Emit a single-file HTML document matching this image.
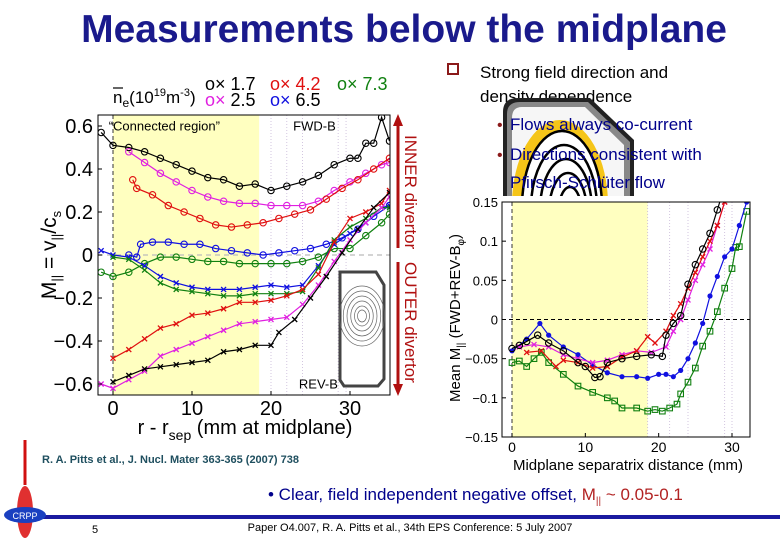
<!DOCTYPE html>
<html><head><meta charset="utf-8"><style>
html,body{margin:0;padding:0;background:#fff;width:780px;height:540px;overflow:hidden}
svg{display:block;font-family:"Liberation Sans",sans-serif}
</style></head><body>
<svg id="s" width="780" height="540" viewBox="0 0 780 540">
<text x="404" y="42" text-anchor="middle" font-size="39" font-weight="bold" fill="#1a1a8c">Measurements below the midplane</text>

<g id="L"></g>
<g id="R"></g>

<rect x="448" y="64" width="10" height="10" fill="none" stroke="#8b1a1a" stroke-width="2"/>
<text x="480" y="78" font-size="17" fill="#000">Strong field direction and</text>
<text x="480" y="102" font-size="17" fill="#000">density dependence</text>
<defs><clipPath id="tk"><path d="M503,112 Q503,98 518,98 L590,98 L634,140 L634,196 L503,196 Z"/></clipPath></defs>
<g clip-path="url(#tk)">
<rect x="500" y="95" width="140" height="105" fill="#222"/>
<path d="M507,114 Q507,102 520,102 L588,102 L630,142 L630,196 L507,196 Z" fill="#888"/>
<path d="M512,118 Q512,107 522,107 L585,107 L624,145 L624,196 L512,196 Z" fill="#f6f6f6"/>
<ellipse cx="560" cy="205" rx="48" ry="85" fill="#f5c518"/>
<ellipse cx="562" cy="207" rx="40" ry="76" fill="#fff" stroke="#000" stroke-width="2.5"/>
<ellipse cx="564" cy="209" rx="33" ry="64" fill="none" stroke="#000" stroke-width="2.5"/>
<ellipse cx="566" cy="211" rx="26" ry="52" fill="none" stroke="#000" stroke-width="2.5"/>
<ellipse cx="568" cy="213" rx="19" ry="40" fill="none" stroke="#000" stroke-width="2.5"/>
<ellipse cx="570" cy="215" rx="12" ry="28" fill="none" stroke="#000" stroke-width="2.5"/>
</g>
<text x="497" y="130" font-size="16" fill="#8b1a1a">•</text>
<text x="510" y="130" font-size="17" fill="#00008b">Flows always co-current</text>
<text x="497" y="160" font-size="16" fill="#8b1a1a">•</text>
<text x="510" y="160" font-size="17" fill="#00008b">Directions consistent with</text>
<text x="510" y="188" font-size="17" fill="#00008b">Pfirsch-Schlüter flow</text>

<text x="42" y="463" font-size="11" font-weight="bold" fill="#1f4f5f">R. A. Pitts et al., J. Nucl. Mater 363-365 (2007) 738</text>
<text x="268" y="500" font-size="17" fill="#00008b">•  Clear, field independent negative offset, <tspan fill="#b22222">M<tspan font-size="10" dy="4">||</tspan><tspan dy="-4"> ~ 0.05-0.1</tspan></tspan></text>

<line x1="25" y1="440" x2="25" y2="485" stroke="#d01010" stroke-width="3"/>
<line x1="40" y1="517" x2="780" y2="517" stroke="#1a1aa0" stroke-width="4"/>
<g>
<ellipse cx="25" cy="512" rx="8" ry="26" fill="#e03030"/>
<ellipse cx="25" cy="515" rx="21" ry="8" fill="#1a40c0"/>
<text x="25" y="519" font-size="9" fill="#fff" text-anchor="middle">CRPP</text>
</g>
<text x="92" y="533" font-size="11" fill="#000">5</text>
<text x="410" y="531" font-size="11" fill="#000" text-anchor="middle">Paper O4.007, R. A. Pitts et al., 34th EPS Conference: 5 July 2007</text>
</svg>
<script>
// ---------- LEFT CHART DATA ----------
const leftTicksY = [0.6, 0.4, 0.2, 0, -0.2, -0.4, -0.6];
const leftTickLabelsY = ["0.6", "0.4", "0.2", "0", "\u22120.2", "\u22120.4", "\u22120.6"];
const leftTicksX = [0, 10, 20, 30];
const blackFwdX = [-1.5,0,2,4,6,8,10,12,14,16,18,20,22,24,26,28,30,31,32,33,34,35];
const blackFwdY = [0.57,0.51,0.50,0.48,0.45,0.42,0.39,0.36,0.35,0.32,0.33,0.30,0.32,0.34,0.37,0.42,0.45,0.45,0.52,0.52,0.64,0.53];
const magentaFwdX = [2,4,6,8,10,12,14,16,18,20,22,24,26,28,30,32,34,35];
const magentaFwdY = [0.48,0.43,0.38,0.34,0.30,0.27,0.25,0.24,0.24,0.23,0.23,0.23,0.25,0.30,0.34,0.38,0.42,0.43];
const redFwdX = [2.5,3,5,7,9,11,13,15,17,19,21,23,25,27,29,31,33,35];
const redFwdY = [0.35,0.31,0.28,0.23,0.20,0.17,0.14,0.13,0.14,0.15,0.17,0.19,0.21,0.26,0.31,0.35,0.40,0.45];
const blueFwdX = [2,3,3.5,5,7,9,11,13,15,17,19,21,23,25,27,29,31,33,35];
const blueFwdY = [0.00,-0.01,0.05,0.06,0.06,0.05,0.05,0.03,0.02,0.01,0.00,0.01,0.02,0.03,0.05,0.08,0.12,0.18,0.23];
const greenFwdX = [-1.5,0,2,4,6,8,10,12,14,16,18,20,22,24,26,28,30,32,34,35];
const greenFwdY = [-0.08,-0.10,-0.08,-0.04,-0.01,-0.01,-0.02,-0.03,-0.03,-0.04,-0.04,-0.04,-0.04,-0.03,-0.01,0.03,0.03,0.09,0.15,0.19];
const blueRevX = [-1.5,0,2,4,6,8,10,12,14,16,18,20,22,24,26,28,30,32,34,35];
const blueRevY = [0.02,0.00,-0.01,-0.05,-0.10,-0.13,-0.15,-0.16,-0.16,-0.16,-0.15,-0.14,-0.15,-0.14,-0.05,0.05,0.10,0.15,0.22,0.23];
const greenRevX = [0,2,4,6,8,10,12,14,16,18,20,22,24,26,28,30,32,34,35];
const greenRevY = [-0.01,-0.02,-0.07,-0.13,-0.16,-0.17,-0.18,-0.19,-0.19,-0.18,-0.18,-0.18,-0.17,-0.06,0.07,0.13,0.17,0.22,0.22];
const redRevX = [0,2,4,6,8,10,12,14,16,18,20,22,24,26,28,30,32,34,35];
const redRevY = [-0.48,-0.44,-0.39,-0.34,-0.32,-0.28,-0.27,-0.25,-0.22,-0.22,-0.21,-0.19,-0.16,-0.09,0.06,0.17,0.20,0.24,0.30];
const magentaRevX = [-1.5,0,2,4,6,8,10,12,14,16,18,20,22,24,26,28,30,32,34,35];
const magentaRevY = [-0.60,-0.62,-0.58,-0.54,-0.47,-0.44,-0.41,-0.38,-0.35,-0.32,-0.31,-0.30,-0.29,-0.23,-0.14,-0.03,0.07,0.15,0.22,0.27];
const blackRevX = [0,2,4,6,8,10,12,14,16,18,20,21,23,25,27,29,31,33,35];
const blackRevY = [-0.59,-0.56,-0.53,-0.52,-0.51,-0.50,-0.49,-0.45,-0.44,-0.42,-0.42,-0.36,-0.30,-0.20,-0.10,0.01,0.12,0.22,0.29];

// ---------- RIGHT CHART DATA ----------
const rightTicksY = [0.15, 0.1, 0.05, 0, -0.05, -0.1, -0.15];
const rightTickLabelsY = ["0.15", "0.1", "0.05", "0", "\u22120.05", "\u22120.1", "\u22120.15"];
const rightTicksX = [0, 10, 20, 30];
const rBlackX = [0,1,2,3.5,5,7,9,10,11.3,12,13,15,17,19,20.5,21,22,23,24,25,26,27,28,29];
const rBlackY = [-0.037,-0.033,-0.028,-0.020,-0.030,-0.040,-0.055,-0.060,-0.074,-0.073,-0.055,-0.050,-0.047,-0.045,-0.047,-0.020,-0.005,0.005,0.045,0.07,0.09,0.11,0.14,0.17];
const rRedX = [2,4,6,7,9,11,13,15,17,18.5,19.5,21,22,23,24,25,26,27,28,29];
const rRedY = [-0.042,-0.040,-0.060,-0.052,-0.055,-0.062,-0.060,-0.048,-0.040,-0.022,-0.030,-0.015,0.005,0.02,0.04,0.06,0.08,0.10,0.12,0.15];
const rMagentaX = [1,3,5,7,9,11,13,15,17,19,21,22,23,24,25,26,27,28,29];
const rMagentaY = [-0.035,-0.032,-0.035,-0.045,-0.050,-0.055,-0.052,-0.045,-0.040,-0.042,-0.035,-0.015,0.000,0.025,0.05,0.07,0.09,0.12,0.15];
const rBlueX = [0,2,3.8,5,7,9,11,13,15,17,18.5,20,21,22,23,24,25,26,27,28,29,30,31,32];
const rBlueY = [-0.04,-0.025,-0.005,-0.02,-0.035,-0.045,-0.058,-0.068,-0.073,-0.073,-0.075,-0.070,-0.070,-0.073,-0.065,-0.05,-0.030,-0.005,0.03,0.055,0.08,0.09,0.12,0.15];
const rGreenX = [0,1,2,3,4,5,7,9,11,13,14,15,17,18.5,19.5,20.5,21.5,22.5,23,24,25,26,27,28,29,30,30.5,31,32];
const rGreenY = [-0.055,-0.053,-0.060,-0.050,-0.042,-0.055,-0.070,-0.085,-0.093,-0.100,-0.104,-0.113,-0.113,-0.117,-0.115,-0.117,-0.113,-0.108,-0.095,-0.080,-0.062,-0.034,-0.015,0.010,0.040,0.065,0.092,0.093,0.138];

const NS = "http://www.w3.org/2000/svg";
function mk(tag, attrs, parent){const e=document.createElementNS(NS,tag);for(const k in attrs)e.setAttribute(k,attrs[k]);parent.appendChild(e);return e;}
function marker(g, type, cx, cy, col){
  let m;
  if(type==='o'){m=mk('circle',{cx:cx,cy:cy,r:3.2,fill:'none',stroke:col,'stroke-width':1.1},g);}
  else if(type==='x'){m=mk('path',{d:`M${cx-2.5},${cy-2.5}L${cx+2.5},${cy+2.5}M${cx-2.5},${cy+2.5}L${cx+2.5},${cy-2.5}`,stroke:col,'stroke-width':1.3},g);}
  else if(type==='*'){m=mk('circle',{cx:cx,cy:cy,r:2.6,fill:col},g);}
  else {m=mk('rect',{x:cx-2.8,y:cy-2.8,width:5.6,height:5.6,fill:'none',stroke:col,'stroke-width':1.1},g);}
  
  
}
function series(g, xs, ys, sx, sy, col, type, name){
  const sg=mk('g',{},g);
  
  
  const pts=xs.map((x,i)=>sx(x)+','+sy(ys[i])).join(' ');
  mk('polyline',{points:pts,fill:'none',stroke:col,'stroke-width':1.2},sg);
  xs.forEach((x,i)=>marker(sg,type,sx(x),sy(ys[i]),col));
}

// LEFT
(function(){
  const g=document.getElementById('L');
  const X0=98,X1=390,Y0=115,Y1=395;
  const sx=x=>113+x*(350-113)/30;
  const sy=y=>255-y*(255-126)/0.6;
  const cp=mk('clipPath',{id:'cl'},g);mk('rect',{x:X0,y:Y0,width:X1-X0,height:Y1-Y0},cp);
  const yel=mk('rect',{x:sx(0),y:Y0,width:sx(18.5)-sx(0),height:Y1-Y0,fill:'#ffffc0'},g);
  
  
  [20,22,24,28.5,29.5].forEach(v=>mk('line',{x1:sx(v),x2:sx(v),y1:Y0,y2:Y1,stroke:'#c8b8d8','stroke-width':0.8,'stroke-dasharray':'1,2'},g));
  mk('line',{x1:sx(0),x2:sx(0),y1:Y0,y2:Y1,stroke:'#333','stroke-dasharray':'4,3'},g);
  mk('line',{x1:X0,x2:X1,y1:sy(0),y2:sy(0),stroke:'#bbb','stroke-dasharray':'5,4','stroke-width':1.2},g);
  const t1=mk('text',{x:sx(6.5),y:sy(0.58),'font-size':13,'text-anchor':'middle',fill:'#000'},g);t1.textContent='“Connected region”';
  
  
  const t2=mk('text',{x:sx(25.5),y:sy(0.58),'font-size':13,'text-anchor':'middle'},g);t2.textContent='FWD-B';
  
  
  const ins=mk('g',{},g);
  
  
  mk('path',{d:'M340,272 L376,272 L384,285 L384,379 L378,386 L344,386 L340,380 Z',fill:'#fff',stroke:'#444','stroke-width':3},ins);
  [30,25,20,15,10,6].forEach((r,i)=>mk('ellipse',{cx:362,cy:316,rx:r*0.75,ry:r,fill:'none',stroke:'#666','stroke-width':0.7},ins));
  const t3=mk('text',{x:sx(26),y:sy(-0.62),'font-size':13,'text-anchor':'middle'},g);t3.textContent='REV-B';
  
  
  const d=mk('g',{'clip-path':'url(#cl)'},g);
  series(d,blackFwdX,blackFwdY,sx,sy,'#000','o','series-1.7-fwd');
  series(d,magentaFwdX,magentaFwdY,sx,sy,'#e020e0','o','series-2.5-fwd');
  series(d,redFwdX,redFwdY,sx,sy,'#e01010','o','series-4.2-fwd');
  series(d,blueFwdX,blueFwdY,sx,sy,'#1010e0','o','series-6.5-fwd');
  series(d,greenFwdX,greenFwdY,sx,sy,'#108010','o','series-7.3-fwd');
  series(d,blueRevX,blueRevY,sx,sy,'#1010e0','x','series-6.5-rev');
  series(d,greenRevX,greenRevY,sx,sy,'#108010','x','series-7.3-rev');
  series(d,redRevX,redRevY,sx,sy,'#e01010','x','series-4.2-rev');
  series(d,magentaRevX,magentaRevY,sx,sy,'#e020e0','x','series-2.5-rev');
  series(d,blackRevX,blackRevY,sx,sy,'#000','x','series-1.7-rev');
  mk('rect',{x:X0,y:Y0,width:X1-X0,height:Y1-Y0,fill:'none',stroke:'#000','stroke-width':1},g);
  leftTicksY.forEach((v,i)=>{
    mk('line',{x1:X0,x2:X0+4,y1:sy(v),y2:sy(v),stroke:'#000'},g);
    const t=mk('text',{x:X0-5,y:sy(v)+7,'font-size':20,'text-anchor':'end'},g);t.textContent=leftTickLabelsY[i];
    
    
  });
  leftTicksX.forEach(v=>{
    mk('line',{x1:sx(v),x2:sx(v),y1:Y1,y2:Y1-4,stroke:'#000'},g);
    const t=mk('text',{x:sx(v),y:Y1+20,'font-size':20,'text-anchor':'middle'},g);t.textContent=v;
    
    
  });
})();

// RIGHT
(function(){
  const g=document.getElementById('R');
  const X0=502,X1=750,Y0=202,Y1=437;
  const sx=x=>512+x*(732-512)/30;
  const sy=y=>319.5-y*(437-202)/0.3;
  const cp=mk('clipPath',{id:'cr'},g);mk('rect',{x:X0,y:Y0,width:X1-X0,height:Y1-Y0},cp);
  mk('rect',{x:X0,y:Y0,width:X1-X0,height:Y1-Y0,fill:'#fff'},g);
  const yel=mk('rect',{x:sx(0),y:Y0,width:sx(18.5)-sx(0),height:Y1-Y0,fill:'#ffffc0'},g);
  
  
  [18.5,21.5,24,29,30].forEach(v=>mk('line',{x1:sx(v),x2:sx(v),y1:Y0,y2:Y1,stroke:'#c8b8d8','stroke-width':0.8,'stroke-dasharray':'1,2'},g));
  mk('line',{x1:sx(0),x2:sx(0),y1:Y0,y2:Y1,stroke:'#333','stroke-dasharray':'4,3'},g);
  mk('line',{x1:X0,x2:X1,y1:sy(0),y2:sy(0),stroke:'#000','stroke-dasharray':'4,3'},g);
  const d=mk('g',{'clip-path':'url(#cr)'},g);
  series(d,rGreenX,rGreenY,sx,sy,'#108010','s','mean-7.3');
  series(d,rBlueX,rBlueY,sx,sy,'#1010e0','*','mean-6.5');
  series(d,rMagentaX,rMagentaY,sx,sy,'#e020e0','x','mean-2.5');
  series(d,rRedX,rRedY,sx,sy,'#e01010','x','mean-4.2');
  series(d,rBlackX,rBlackY,sx,sy,'#000','o','mean-1.7');
  mk('rect',{x:X0,y:Y0,width:X1-X0,height:Y1-Y0,fill:'none',stroke:'#000'},g);
  rightTicksY.forEach((v,i)=>{
    mk('line',{x1:X0,x2:X0+4,y1:sy(v),y2:sy(v),stroke:'#000'},g);
    const t=mk('text',{x:X0-4,y:sy(v)+5,'font-size':13,'text-anchor':'end'},g);t.textContent=rightTickLabelsY[i];
    
    
  });
  rightTicksX.forEach(v=>{
    mk('line',{x1:sx(v),x2:sx(v),y1:Y1,y2:Y1-4,stroke:'#000'},g);
    const t=mk('text',{x:sx(v),y:Y1+15,'font-size':14,'text-anchor':'middle'},g);t.textContent=v;
    
    
  });
})();
</script>
<svg width="780" height="540" style="position:absolute;left:0;top:0" font-family="Liberation Sans, sans-serif">
<text x="113" y="103" font-size="17">n<tspan font-size="12" dy="4">e</tspan><tspan dy="-4">(10</tspan><tspan font-size="11" dy="-7">19</tspan><tspan dy="7">m</tspan><tspan font-size="11" dy="-7">-3</tspan><tspan dy="7">)</tspan></text>
<line x1="113" y1="88" x2="123" y2="88" stroke="#000" stroke-width="1.2"/>
<g font-size="18">
<text x="205" y="90" fill="#000">o× 1.7</text>
<text x="270" y="90" fill="#e01010">o× 4.2</text>
<text x="337" y="90" fill="#108010">o× 7.3</text>
<text x="205" y="106" fill="#e020e0">o× <tspan fill="#000">2.5</tspan></text>
<text x="270" y="106" fill="#1010e0">o× <tspan fill="#000">6.5</tspan></text>
</g>
<text transform="translate(56,255) rotate(-90)" text-anchor="middle" font-size="21">M<tspan font-size="13" dy="5">||</tspan><tspan dy="-5"> = v</tspan><tspan font-size="13" dy="5">||</tspan><tspan dy="-5">/c</tspan><tspan font-size="13" dy="5">s</tspan></text>
<text x="245" y="434" text-anchor="middle" font-size="20">r - r<tspan font-size="14" dy="6">sep</tspan><tspan dy="-6"> (mm at midplane)</tspan></text>
<g>
<line x1="398" y1="120" x2="398" y2="248" stroke="#b01010" stroke-width="3"/>
<path d="M393,126 L398,114 L403,126 Z" fill="#b01010"/>
<line x1="398" y1="262" x2="398" y2="390" stroke="#b01010" stroke-width="3"/>
<path d="M393,384 L398,396 L403,384 Z" fill="#b01010"/>
</g>
<text transform="translate(405,135) rotate(90)" font-size="17" fill="#b01010">INNER divertor</text>
<text transform="translate(405,262) rotate(90)" font-size="17" fill="#b01010">OUTER divertor</text>
<text transform="translate(460,318) rotate(-90)" text-anchor="middle" font-size="15">Mean M<tspan font-size="10" dy="4">||</tspan><tspan dy="-4"> (FWD+REV-B</tspan><tspan font-size="10" dy="4">φ</tspan><tspan dy="-4">)</tspan></text>
<text x="628" y="470" text-anchor="middle" font-size="15">Midplane separatrix distance (mm)</text>
</svg>
</body></html>
